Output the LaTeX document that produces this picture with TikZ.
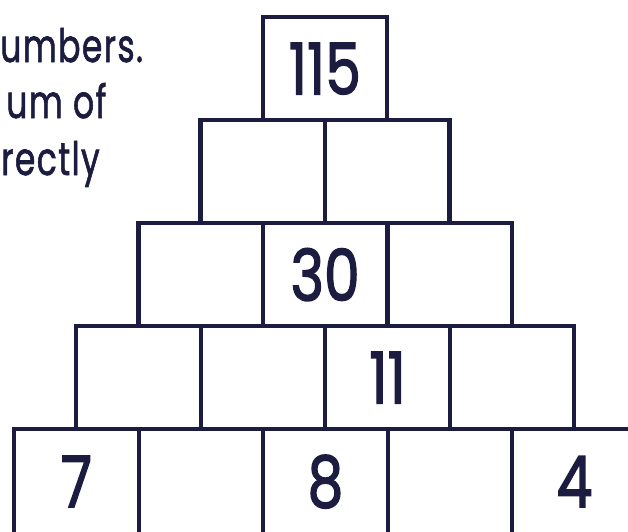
\documentclass[tikz,border=0pt]{standalone}
\usepackage{fontspec}
\setmainfont{Poppins}
\usepackage{graphicx}
\definecolor{ink}{RGB}{27,28,64}
\newfontfamily\handfont[FakeBold=2.2]{Poppins}
\newfontfamily\notehand[FakeBold=1.6,LetterSpace=4]{Poppins}
\newcommand{\numfont}{\handfont\fontsize{71}{75}\selectfont}
\newcommand{\notefont}{\notehand\fontsize{46}{50}\selectfont}
\newcommand{\narrow}[1]{\scalebox{0.8}[1]{#1}}
\newcommand{\nnarrow}[1]{\scalebox{0.72}[1]{#1}}
\begin{document}
\begin{tikzpicture}[x=1pt,y=-1pt,
  cell/.style={draw=ink, line width=4.2pt, minimum width=124.5pt, minimum height=103pt,
    inner sep=0pt, anchor=north west, font=\numfont, text=ink},
  lastcell/.style={cell, minimum height=105pt},
  note/.style={anchor=base west, inner sep=0pt, text=ink, font=\notefont}]
\useasboundingbox (0,0) rectangle (628,531);
% row 1
\node[cell] (c11) at (260.5,15) {\narrow{115}};
% row 2
\node[cell] (c21) at (198.4,118) {};
\node[cell] (c22) at (322.9,118) {};
% row 3
\node[cell] (c31) at (136.3,221) {};
\node[cell] (c32) at (260.8,221) {\narrow{30}};
\node[cell] (c33) at (385.3,221) {};
% row 4
\node[cell] (c41) at (74.2,324) {};
\node[cell] (c42) at (198.7,324) {};
\node[cell] (c43) at (323.2,324) {\narrow{11}};
\node[cell] (c44) at (447.7,324) {};
% row 5
\node[lastcell] (c51) at (12.1,427) {\narrow{7}};
\node[lastcell] (c52) at (136.6,427) {};
\node[lastcell] (c53) at (261.1,427) {\narrow{8}};
\node[lastcell] (c54) at (385.6,427) {};
\node[lastcell] (c55) at (510.1,427) {\narrow{4}};
% notes
\node[note] (n1) at (0,62) {\nnarrow{umbers.}};
\node[note] (n2) at (6,118) {\nnarrow{um of}};
\node[note] (n3) at (1,175) {\nnarrow{rectly}};
\end{tikzpicture}
\end{document}
